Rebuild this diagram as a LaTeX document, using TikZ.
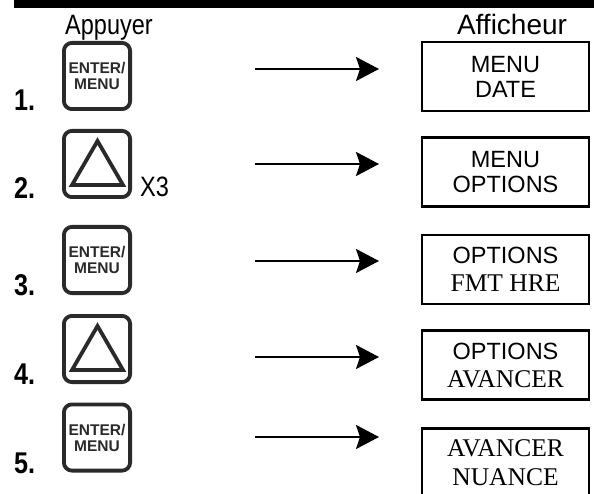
\documentclass[tikz,border=0pt]{standalone}
\usepackage{fontspec}
\setmainfont{Liberation Serif}
\setsansfont{Liberation Sans}
\newfontfamily\narrowfont[FakeStretch=0.84]{Liberation Sans}
\usetikzlibrary{arrows.meta}
\definecolor{keygray}{HTML}{2A2A2A}
\tikzset{
  keybox/.style={draw=keygray, line width=3.8pt, rounded corners=8pt,
    minimum width=66.2pt, minimum height=66.2pt, inner sep=0pt,
    text=keygray, font=\sffamily\bfseries\fontsize{15.5}{16}\selectfont, align=center},
  tri/.style={draw=keygray, line width=3.8pt, line join=miter},
  stepnum/.style={anchor=base west, inner sep=0pt, font=\narrowfont\bfseries\fontsize{30}{30}\selectfont},
  header/.style={anchor=base, inner sep=0pt},
  dispbox/.style={draw, line width=2.2pt, minimum width=167pt, minimum height=69pt,
    inner sep=0pt, align=center},
  sanstxt/.style={font=\sffamily\fontsize{23.5}{25}\selectfont},
  flow/.style={line width=2.4pt, -{Stealth[length=23pt, width=24pt, inset=4pt]}},
}
\newcommand{\serline}[1]{{\rmfamily\fontsize{25.5}{28}\selectfont #1}}
\begin{document}
\begin{tikzpicture}[x=1pt, y=-1pt]
\useasboundingbox (0,0) rectangle (594,494);
\clip (0,0) rectangle (594,494);
\fill (14,0) rectangle (594,8);
% headers
\node[header, font=\narrowfont\fontsize{28}{28}\selectfont] (hpress) at (109,35) {Appuyer};
\node[header, font=\sffamily\fontsize{28}{28}\selectfont] (hdisp) at (512,35) {Afficheur};
% keys
\node[keybox] (b1) at (97,76) {ENTER/\\MENU};
\node[keybox] (b2) at (97,164) {};
\node[keybox] (b3) at (97,260) {ENTER/\\MENU};
\node[keybox] (b4) at (97,349) {};
\node[keybox] (b5) at (97,437.5) {ENTER/\\MENU};
\draw[tri, shift={(b2.center)}] (0.5,-23) -- (26,21) -- (-25,21) -- cycle;
\draw[tri, shift={(b4.center)}] (0.5,-23) -- (26,21) -- (-25,21) -- cycle;
\node[stepnum, font=\narrowfont\fontsize{28}{28}\selectfont] (x3) at (140,197) {X3};
% step numbers
\node[stepnum] (n1) at (14,111) {1.};
\node[stepnum] (n2) at (14,199) {2.};
\node[stepnum] (n3) at (14,295) {3.};
\node[stepnum] (n4) at (14,384) {4.};
\node[stepnum] (n5) at (14,473) {5.};
% displays
\node[dispbox, sanstxt] (d1) at (505.5,76.5) {MENU\\DATE};
\node[dispbox, sanstxt] (d2) at (505.5,172) {MENU\\OPTIONS};
\node[dispbox, font=\sffamily\fontsize{23.5}{28}\selectfont] (d3) at (505.5,269.5) {OPTIONS\\\serline{FMT HRE}};
\node[dispbox, font=\sffamily\fontsize{23.5}{28}\selectfont] (d4) at (505.5,365) {OPTIONS\\\serline{AVANCER}};
\node[dispbox, font=\rmfamily\fontsize{25.5}{29}\selectfont] (d5) at (505.5,463) {AVANCER\\NUANCE};
% arrows
\foreach \i/\y in {1/69, 2/164, 3/261, 4/357, 5/437} {
  \coordinate (s\i) at (255,\y);
  \coordinate (e\i) at (379,\y);
  \draw[flow] (s\i) -- (e\i);
}
\end{tikzpicture}
\end{document}
